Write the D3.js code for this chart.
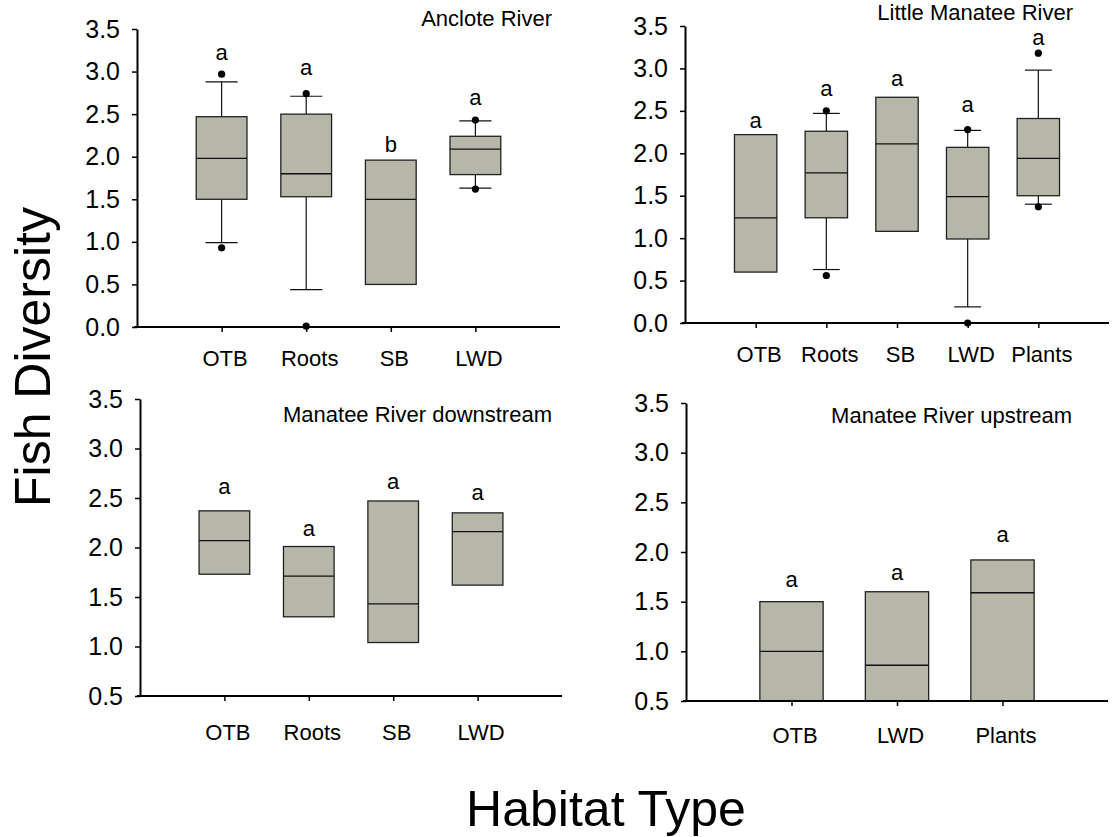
<!DOCTYPE html>
<html><head><meta charset="utf-8">
<script src="https://cdn.jsdelivr.net/npm/d3@7"></script>
<style>
body{margin:0;background:#fff;}
text{font-family:Arial,"Liberation Sans",sans-serif;fill:#000;}
</style>
</head><body><svg id="chart" width="1118" height="837"></svg>
<script>
// ---------- Data: Anclote River ----------
const anclTitle = "Anclote River";
const anclCategories = ["OTB","Roots","SB","LWD"];
const anclQ1 = [1.50, 1.53, 0.50, 1.79];
const anclMedian = [1.98, 1.80, 1.50, 2.09];
const anclQ3 = [2.47, 2.50, 1.96, 2.24];
const anclWhiskerLow = [0.99, 0.44, null, 1.63];
const anclWhiskerHigh = [2.88, 2.71, null, 2.42];
const anclOutliers = [[2.97, 0.93], [2.74, 0.01], [], [2.43, 1.62]];
const anclLetters = ["a","a","b","a"];
const anclLetterY = [3.14, 2.96, 2.06, 2.61];

// ---------- Data: Little Manatee River ----------
const lmrTitle = "Little Manatee River";
const lmrCategories = ["OTB","Roots","SB","LWD","Plants"];
const lmrQ1 = [0.60, 1.24, 1.08, 0.99, 1.50];
const lmrMedian = [1.24, 1.77, 2.11, 1.49, 1.94];
const lmrQ3 = [2.22, 2.26, 2.66, 2.07, 2.41];
const lmrWhiskerLow = [null, 0.63, null, 0.19, 1.40];
const lmrWhiskerHigh = [null, 2.47, null, 2.27, 2.98];
const lmrOutliers = [[], [2.50, 0.56], [], [2.28, 0.0], [3.18, 1.37]];
const lmrLetters = ["a","a","a","a","a"];
const lmrLetterY = [2.30, 2.68, 2.79, 2.49, 3.28];

// ---------- Data: Manatee River downstream ----------
const mrdTitle = "Manatee River downstream";
const mrdCategories = ["OTB","Roots","SB","LWD"];
const mrdQ1 = [1.73, 1.30, 1.04, 1.62];
const mrdMedian = [2.07, 1.71, 1.43, 2.16];
const mrdQ3 = [2.37, 2.01, 2.47, 2.35];
const mrdLetters = ["a","a","a","a"];
const mrdLetterY = [2.54, 2.12, 2.59, 2.48];

// ---------- Data: Manatee River upstream ----------
const mruTitle = "Manatee River upstream";
const mruCategories = ["OTB","LWD","Plants"];
const mruQ1 = [0.50, 0.50, 0.50];
const mruMedian = [1.00, 0.86, 1.59];
const mruQ3 = [1.50, 1.60, 1.92];
const mruLetters = ["a","a","a"];
const mruLetterY = [1.65, 1.72, 2.10];

// ---------- Axis labels / ticks ----------
const yTicksTop = [0, 0.5, 1.0, 1.5, 2.0, 2.5, 3.0, 3.5];
const yTicksBottom = [0.5, 1.0, 1.5, 2.0, 2.5, 3.0, 3.5];
const yLabel = "Fish Diversity";
const xLabel = "Habitat Type";

const svg = d3.select("#chart");
const BOX_FILL = "#b6b6a9";
const fmt = d3.format(".1f");

function makeRows(cats, q1, med, q3, wl, wh, outl, letters, letterY) {
  return cats.map((c, i) => ({
    cat: c, pos: i + 1, q1: q1[i], med: med[i], q3: q3[i],
    wl: wl ? wl[i] : null, wh: wh ? wh[i] : null,
    out: outl ? outl[i] : [], letter: letters[i], letterY: letterY[i]
  }));
}

function drawPanel(p) {
  const g = svg.append("g");
  const n = p.rows.length;
  const x = d3.scaleLinear().domain([0, n + 1]).range([p.x0, p.x1]);
  const y = d3.scaleLinear().domain(p.yDomain).range([p.yBottom, p.yTop]);
  const step = x(1) - x(0);
  const bw = step * 0.6, cw = step * 0.38;

  const clipId = "clip" + Math.round(p.x0) + "_" + Math.round(p.yTop);
  g.append("clipPath").attr("id", clipId).append("rect")
    .attr("x", p.x0).attr("y", p.yTop - 40).attr("width", p.x1 - p.x0).attr("height", p.yBottom - p.yTop + 40);
  const plot = g.append("g").attr("clip-path", `url(#${clipId})`);

  const box = plot.selectAll("g.box").data(p.rows).join("g").attr("class", "box");
  const wStroke = "#111";
  box.filter(d => d.wh != null).append("line")
    .attr("x1", d => x(d.pos)).attr("x2", d => x(d.pos))
    .attr("y1", d => y(d.q3)).attr("y2", d => y(d.wh))
    .attr("stroke", wStroke).attr("stroke-width", 1.2);
  box.filter(d => d.wl != null).append("line")
    .attr("x1", d => x(d.pos)).attr("x2", d => x(d.pos))
    .attr("y1", d => y(d.q1)).attr("y2", d => y(d.wl))
    .attr("stroke", wStroke).attr("stroke-width", 1.2);
  box.filter(d => d.wh != null).append("line")
    .attr("x1", d => x(d.pos) - cw / 2).attr("x2", d => x(d.pos) + cw / 2)
    .attr("y1", d => y(d.wh)).attr("y2", d => y(d.wh))
    .attr("stroke", wStroke).attr("stroke-width", 1.2);
  box.filter(d => d.wl != null).append("line")
    .attr("x1", d => x(d.pos) - cw / 2).attr("x2", d => x(d.pos) + cw / 2)
    .attr("y1", d => y(d.wl)).attr("y2", d => y(d.wl))
    .attr("stroke", wStroke).attr("stroke-width", 1.2);
  box.append("rect")
    .attr("x", d => x(d.pos) - bw / 2).attr("width", bw)
    .attr("y", d => y(d.q3)).attr("height", d => y(d.q1) - y(d.q3))
    .attr("fill", BOX_FILL).attr("stroke", "#222").attr("stroke-width", 1.3);
  box.append("line")
    .attr("x1", d => x(d.pos) - bw / 2).attr("x2", d => x(d.pos) + bw / 2)
    .attr("y1", d => y(d.med)).attr("y2", d => y(d.med))
    .attr("stroke", "#111").attr("stroke-width", 1.3);

  const yAxis = d3.axisLeft(y).tickValues(p.yTicks).tickFormat(fmt)
    .tickSize(5).tickSizeOuter(0).tickPadding(12);
  const ya = g.append("g").attr("transform", `translate(${p.x0},0)`).call(yAxis);
  ya.select(".domain").attr("stroke", "#000").attr("stroke-width", 2);
  ya.selectAll(".tick line").attr("stroke", "#000").attr("stroke-width", 1.5);
  ya.selectAll(".tick text").attr("font-size", 25).attr("fill", "#000")
    .attr("font-family", "Arial, 'Liberation Sans', sans-serif");

  const xAxis = d3.axisBottom(x).tickValues(p.rows.map(d => d.pos))
    .tickFormat((d, i) => p.rows[i].cat).tickSize(5).tickSizeOuter(0).tickPadding(p.xPad);
  const xa = g.append("g").attr("transform", `translate(0,${p.yBottom})`).call(xAxis);
  xa.select(".domain").attr("stroke", "#000").attr("stroke-width", 2)
    .attr("d", `M${p.x0 - 3},0H${p.x1}`);
  xa.selectAll(".tick line").attr("stroke", "#000").attr("stroke-width", 1.5);
  xa.selectAll(".tick text").attr("font-size", 22).attr("dx", 3).attr("fill", "#000")
    .attr("font-family", "Arial, 'Liberation Sans', sans-serif");

  const dots = [];
  p.rows.forEach(d => d.out.forEach(v => dots.push({pos: d.pos, v})));
  g.selectAll("circle.out").data(dots).join("circle").attr("class", "out")
    .attr("cx", d => x(d.pos)).attr("cy", d => y(d.v)).attr("r", 3.6).attr("fill", "#000");

  g.selectAll("text.letter").data(p.rows).join("text").attr("class", "letter")
    .attr("x", d => x(d.pos)).attr("y", d => y(d.letterY))
    .attr("text-anchor", "middle").attr("font-size", 22)
    .text(d => d.letter);

  g.append("text").attr("x", p.titleX).attr("y", p.titleY)
    .attr("text-anchor", "end").attr("font-size", 22).text(p.title);
}

drawPanel({
  title: anclTitle, titleX: 552, titleY: 26,
  rows: makeRows(anclCategories, anclQ1, anclMedian, anclQ3, anclWhiskerLow, anclWhiskerHigh, anclOutliers, anclLetters, anclLetterY),
  x0: 137, x1: 560, yTop: 29, yBottom: 327, yDomain: [0, 3.5], yTicks: yTicksTop, xPad: 18
});
drawPanel({
  title: lmrTitle, titleX: 1073, titleY: 20,
  rows: makeRows(lmrCategories, lmrQ1, lmrMedian, lmrQ3, lmrWhiskerLow, lmrWhiskerHigh, lmrOutliers, lmrLetters, lmrLetterY),
  x0: 685, x1: 1109, yTop: 26, yBottom: 323, yDomain: [0, 3.5], yTicks: yTicksTop, xPad: 18
});
drawPanel({
  title: mrdTitle, titleX: 552, titleY: 422,
  rows: makeRows(mrdCategories, mrdQ1, mrdMedian, mrdQ3, null, null, null, mrdLetters, mrdLetterY),
  x0: 140, x1: 562, yTop: 399, yBottom: 696, yDomain: [0.5, 3.5], yTicks: yTicksBottom, xPad: 23
});
drawPanel({
  title: mruTitle, titleX: 1072, titleY: 423,
  rows: makeRows(mruCategories, mruQ1, mruMedian, mruQ3, null, null, null, mruLetters, mruLetterY),
  x0: 686, x1: 1108, yTop: 403, yBottom: 701, yDomain: [0.5, 3.5], yTicks: yTicksBottom, xPad: 21
});

svg.append("text").attr("transform", "translate(50,357) rotate(-90)")
  .attr("text-anchor", "middle").attr("font-size", 50).text(yLabel);
svg.append("text").attr("x", 606).attr("y", 826)
  .attr("text-anchor", "middle").attr("font-size", 50).text(xLabel);
</script>
</body></html>
